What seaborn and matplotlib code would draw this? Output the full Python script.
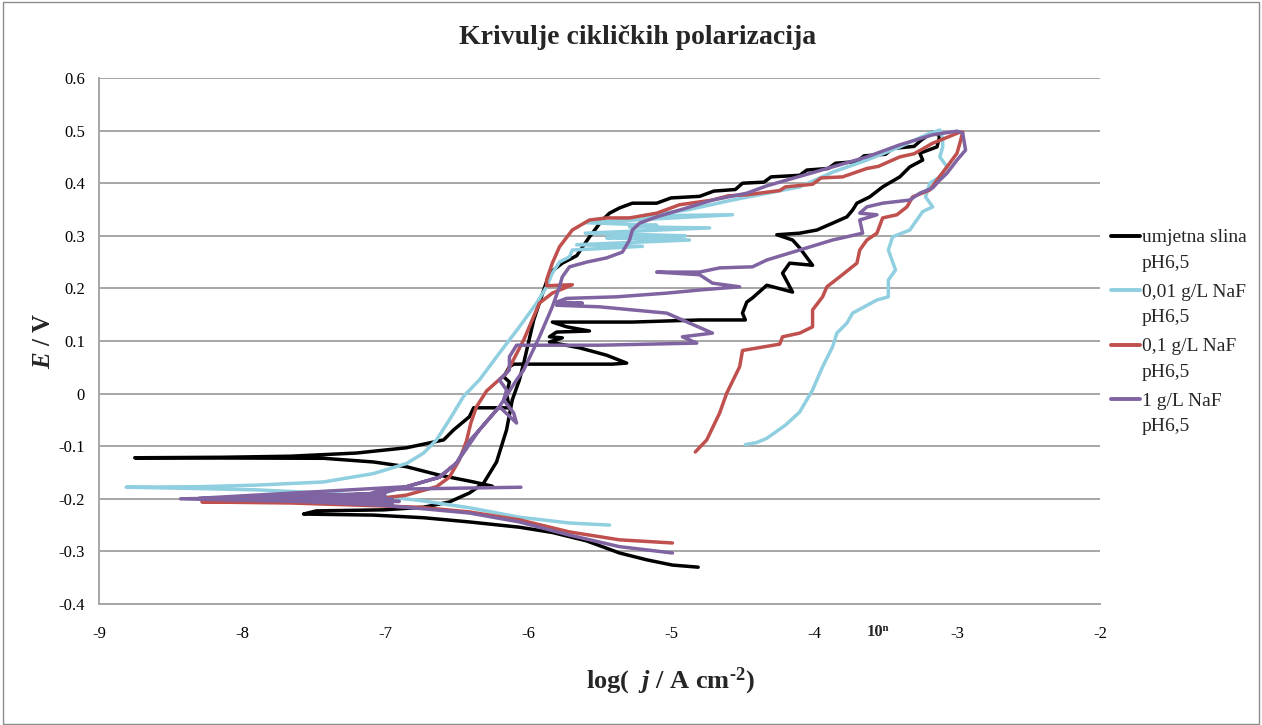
import numpy as np
import pandas as pd
import matplotlib
matplotlib.use("Agg")
import matplotlib.pyplot as plt
import seaborn as sns
from matplotlib.lines import Line2D
from matplotlib.legend_handler import HandlerLine2D
from matplotlib.patches import Rectangle

# ---------------- data (log j / A cm-2, E / V) ----------------
series_names = ["umjetna slina\npH6,5", "0,01 g/L NaF\npH6,5",
                "0,1 g/L NaF\npH6,5", "1 g/L NaF\npH6,5"]
series_colors = ["#000000", "#8fcfe0", "#c0504d", "#8064a2"]

black_x = [-4.81, -4.99, -5.17, -5.36, -5.59, -5.83, -6.06, -6.41, -6.73, -7.08, -7.57,
           -7.48, -7.01, -6.73, -6.55, -6.41, -6.31, -6.22, -6.15, -6.11, -6.06, -6.03, -5.96,
           -5.89, -5.85, -5.76, -5.66, -5.57, -5.48, -5.43, -5.36, -5.27, -5.10, -5.00, -4.80,
           -4.70, -4.55, -4.50, -4.35, -4.30, -4.10, -4.05, -3.90, -3.85, -3.70, -3.65, -3.50,
           -3.45, -3.30, -3.25, -3.17,
           -3.12, -3.14, -3.26, -3.24, -3.33, -3.40, -3.52, -3.61, -3.70, -3.73, -3.77, -3.87,
           -3.98, -4.10, -4.26, -4.15, -4.10, -4.01, -4.17, -4.22, -4.15, -4.33, -4.43, -4.47,
           -4.50, -4.48, -4.80, -5.27, -5.73, -5.83, -5.73, -5.57, -5.80, -5.85, -5.76, -5.85,
           -5.64, -5.45, -5.31, -5.41, -6.10, -6.13, -6.17, -6.13, -6.15, -6.13, -6.38, -6.41,
           -6.52, -6.59, -6.85, -7.20, -7.66, -8.13, -8.75, -7.43, -7.08, -6.85, -6.62, -6.38,
           -6.25]
black_y = [-0.330, -0.326, -0.316, -0.303, -0.280, -0.264, -0.254, -0.244, -0.236, -0.231, -0.229,
           -0.223, -0.221, -0.216, -0.206, -0.189, -0.170, -0.130, -0.069, -0.012, 0.026, 0.058, 0.140,
           0.197, 0.229, 0.248, 0.262, 0.298, 0.330, 0.343, 0.353, 0.362, 0.362, 0.372, 0.375,
           0.385, 0.388, 0.400, 0.402, 0.412, 0.415, 0.425, 0.428, 0.438, 0.441, 0.452, 0.455,
           0.466, 0.470, 0.482, 0.497,
           0.490, 0.469, 0.457, 0.444, 0.431, 0.412, 0.393, 0.374, 0.362, 0.349, 0.336, 0.324,
           0.311, 0.305, 0.302, 0.292, 0.277, 0.244, 0.248, 0.229, 0.193, 0.206, 0.182, 0.174,
           0.153, 0.140, 0.140, 0.136, 0.136, 0.136, 0.127, 0.119, 0.117, 0.108, 0.106, 0.098,
           0.087, 0.073, 0.058, 0.056, 0.056, 0.051, 0.032, 0.022, 0.000, -0.027, -0.027, -0.044,
           -0.069, -0.088, -0.103, -0.113, -0.119, -0.121, -0.122, -0.123, -0.130, -0.139, -0.155, -0.168,
           -0.176]

cyan_x = [-5.43, -5.71, -6.06, -6.41, -6.76, -6.97, -7.43, -7.90, -8.40, -8.81,
          -8.30, -7.90, -7.43, -7.08, -6.85, -6.73, -6.64, -6.55, -6.45, -6.34, -6.20, -6.06,
          -5.94, -5.87, -5.83, -5.78, -5.71, -5.69, -5.20, -5.66, -4.87, -5.45, -5.36, -4.90,
          -5.60, -4.73, -5.29, -5.10, -5.60, -4.57, -5.20, -5.00, -4.89, -4.57, -4.10, -3.87,
          -3.63, -3.40, -3.19, -3.12,
          -3.10, -3.10, -3.12, -3.07, -3.12, -3.19, -3.22, -3.17, -3.24, -3.33, -3.45, -3.48,
          -3.43, -3.48, -3.48, -3.56, -3.73, -3.77, -3.84, -3.87, -3.94, -4.01, -4.10, -4.20,
          -4.33, -4.40, -4.48]
cyan_y = [-0.250, -0.246, -0.235, -0.217, -0.203, -0.197, -0.189, -0.183, -0.180, -0.178,
          -0.177, -0.174, -0.168, -0.152, -0.133, -0.113, -0.088, -0.050, -0.005, 0.026, 0.077, 0.127,
          0.172, 0.203, 0.229, 0.250, 0.260, 0.273, 0.280, 0.283, 0.292, 0.296, 0.298, 0.300,
          0.305, 0.315, 0.317, 0.320, 0.325, 0.340, 0.338, 0.345, 0.349, 0.368, 0.393, 0.421,
          0.444, 0.469, 0.495, 0.501,
          0.485, 0.469, 0.450, 0.431, 0.412, 0.400, 0.374, 0.355, 0.346, 0.311, 0.298, 0.273,
          0.235, 0.216, 0.184, 0.178, 0.153, 0.134, 0.115, 0.089, 0.051, 0.007, -0.035, -0.060,
          -0.085, -0.093, -0.097]

red_x = [-4.99, -5.36, -5.71, -6.06, -6.41, -6.76, -7.20, -7.66, -8.28,
         -7.66, -7.03, -6.85, -6.64, -6.55, -6.48, -6.43, -6.40, -6.36, -6.29, -6.15, -6.03,
         -5.92, -5.83, -5.69, -5.87, -5.87, -5.83, -5.78, -5.69, -5.57, -5.45, -5.29, -5.10,
         -4.94, -4.71, -4.60, -4.47, -4.24, -4.20, -4.01, -3.95, -3.80, -3.63, -3.55, -3.40,
         -3.30, -3.17, -2.98,
         -2.96, -2.98, -3.00, -3.07, -3.14, -3.19, -3.31, -3.35, -3.42, -3.52, -3.56, -3.63,
         -3.68, -3.70, -3.82, -3.91, -3.94, -4.01, -4.01, -4.10, -4.22, -4.24, -4.50, -4.52,
         -4.61, -4.66, -4.75, -4.83]
red_y = [-0.284, -0.278, -0.263, -0.240, -0.225, -0.216, -0.212, -0.208, -0.206,
         -0.205, -0.199, -0.193, -0.177, -0.159, -0.126, -0.090, -0.056, -0.025, 0.005, 0.039, 0.102,
         0.172, 0.191, 0.207, 0.205, 0.216, 0.248, 0.279, 0.311, 0.330, 0.334, 0.334, 0.343,
         0.359, 0.368, 0.376, 0.378, 0.386, 0.393, 0.398, 0.410, 0.412, 0.428, 0.432, 0.450,
         0.456, 0.476, 0.497,
         0.497, 0.476, 0.457, 0.431, 0.406, 0.387, 0.374, 0.355, 0.340, 0.334, 0.305, 0.292,
         0.273, 0.248, 0.222, 0.203, 0.184, 0.159, 0.127, 0.115, 0.108, 0.094, 0.082, 0.051,
         0.001, -0.037, -0.088, -0.111]

purple_x = [-4.99, -5.36, -5.71, -6.06, -6.41, -6.73, -7.03, -7.60, -8.43,
            -7.60, -7.03, -6.85, -6.62, -6.50, -6.41, -6.34, -6.20, -6.08, -6.03, -5.92, -5.83,
            -5.78, -5.76, -5.71, -5.59, -5.45, -5.34, -5.29, -5.27, -5.22, -5.10, -4.89, -4.71,
            -4.47, -4.33, -3.87, -3.63, -3.40, -3.17, -3.00,
            -2.96, -2.94, -3.00, -3.07, -3.12, -3.17, -3.26, -3.33, -3.52, -3.63, -3.68, -3.56,
            -3.68, -3.66, -3.87, -4.10, -4.33, -4.43, -4.66, -4.80, -5.10, -4.80, -4.71, -4.52,
            -4.80, -5.03, -5.38, -5.73, -5.80, -5.62, -5.80, -5.50, -5.03, -4.71, -4.92, -4.82,
            -5.50, -6.08, -6.13, -6.13, -6.20, -6.15, -6.17, -6.10, -6.08,
            -6.20, -6.34, -6.50, -6.62, -6.85, -7.05, -8.30, -7.00, -8.10, -7.00, -7.90, -6.95,
            -7.70, -6.90, -7.50, -6.95, -7.30, -7.00, -6.05]
purple_y = [-0.303, -0.291, -0.269, -0.244, -0.227, -0.219, -0.212, -0.205, -0.200,
            -0.197, -0.190, -0.177, -0.159, -0.132, -0.090, -0.069, -0.025, 0.026, 0.045, 0.108, 0.165,
            0.203, 0.222, 0.241, 0.250, 0.258, 0.269, 0.292, 0.311, 0.324, 0.336, 0.353, 0.368,
            0.381, 0.395, 0.431, 0.450, 0.473, 0.492, 0.499,
            0.495, 0.463, 0.444, 0.419, 0.406, 0.391, 0.381, 0.368, 0.362, 0.355, 0.343, 0.340,
            0.330, 0.305, 0.292, 0.273, 0.254, 0.241, 0.239, 0.231, 0.231, 0.226, 0.210, 0.203,
            0.197, 0.191, 0.184, 0.181, 0.174, 0.172, 0.168, 0.165, 0.153, 0.115, 0.108, 0.096,
            0.092, 0.092, 0.070, 0.045, 0.026, 0.007, -0.012, -0.037, -0.056,
            -0.025, -0.069, -0.132, -0.159, -0.177, -0.180, -0.199, -0.190, -0.199, -0.195, -0.200, -0.200,
            -0.201, -0.205, -0.203, -0.209, -0.205, -0.182, -0.178]

x_ticks = [-9, -8, -7, -6, -5, -4, -3, -2]
y_ticks = [-0.4, -0.3, -0.2, -0.1, 0, 0.1, 0.2, 0.3, 0.4, 0.5, 0.6]
y_tick_labels = ["-0.4", "-0.3", "-0.2", "-0.1", "0", "0.1", "0.2", "0.3", "0.4", "0.5", "0.6"]
title_text = "Krivulje cikličkih polarizacija"

# ---------------- build long table ----------------
frames = []
for name, xs, ys in zip(series_names, [black_x, cyan_x, red_x, purple_x],
                        [black_y, cyan_y, red_y, purple_y]):
    frames.append(pd.DataFrame({"logj": xs, "E": ys, "series": name,
                                "order": np.arange(len(xs))}))
df = pd.concat(frames, ignore_index=True)

# ---------------- style ----------------
sns.set_style("white")
plt.rcParams["font.family"] = ["Liberation Serif", "DejaVu Serif"]
plt.rcParams["axes.unicode_minus"] = False
plt.rcParams["mathtext.fontset"] = "custom"
plt.rcParams["mathtext.rm"] = "Liberation Serif:bold"
plt.rcParams["mathtext.it"] = "Liberation Serif:italic:bold"
plt.rcParams["mathtext.bf"] = "Liberation Serif:bold"

fig = plt.figure(figsize=(12.62, 7.25), dpi=100)
ax = fig.add_axes([99 / 1262, 1 - 604 / 725, (1100 - 99) / 1262, (604 - 78) / 725])

palette = dict(zip(series_names, series_colors))
sns.lineplot(data=df, x="logj", y="E", hue="series", units="series",
             estimator=None, sort=False, palette=palette, lw=2.5,
             legend=False, ax=ax)

ax.set_xlim(-9, -2)
ax.set_ylim(-0.4, 0.6)
ax.set_xticks(x_ticks)
ax.set_xticklabels([str(t) for t in x_ticks])
ax.set_yticks(y_ticks)
ax.set_yticklabels(y_tick_labels)
ax.tick_params(axis="both", labelsize=12, colors="#a0a0a0", labelcolor="black",
               direction="out", length=6, width=1.3)
ax.tick_params(axis="x", pad=10)
ax.tick_params(axis="y", pad=4)
ax.grid(axis="y", color="#a6a6a6", lw=1.4)
ax.grid(axis="x", visible=False)
for s in ["top", "right"]:
    ax.spines[s].set_visible(False)
for s in ["left", "bottom"]:
    ax.spines[s].set_color("#a6a6a6")
    ax.spines[s].set_linewidth(1.4)
ax.set_axisbelow(True)

ax.set_xlabel(r"log(  $j$ / A cm$^{\text{-2}}$)", fontsize=19, fontweight="bold")
ax.xaxis.label.set_va("center")
ax.xaxis.set_label_coords((670 - 99) / 1001, -(681 - 604) / 526)
ax.set_ylabel(r"$E$ / V", fontsize=18, fontweight="bold")
ax.yaxis.label.set_va("center")
ax.yaxis.set_label_coords(-(99 - 43) / 1001, 0.5)

fig.text(638 / 1262, 1 - 37 / 725, title_text, ha="center", va="center",
         fontsize=20, fontweight="bold")
fig.text(878 / 1262, 1 - 632 / 725, "10ⁿ", ha="center", va="center",
         fontsize=12, fontweight="bold", family=["Liberation Serif", "DejaVu Serif"])

LINESP = 1.68
HANDLE_SHIFT = 10.5  # points, lifts the legend line to the first label line


class UpHandler(HandlerLine2D):
    def create_artists(self, legend, orig_handle, xdescent, ydescent, width, height,
                       fontsize, trans):
        arts = super().create_artists(legend, orig_handle, xdescent, ydescent, width,
                                      height, fontsize, trans)
        for a in arts:
            a.set_ydata(np.asarray(a.get_ydata()) + HANDLE_SHIFT)
        return arts


handles = [Line2D([0], [0], color=c, lw=2.8) for c in series_colors]
leg = fig.legend(handles, series_names, loc="upper left",
                 bbox_to_anchor=(1111 / 1262, 1 - 229 / 725), frameon=False,
                 fontsize=14, handlelength=1.5, handletextpad=0.1, labelspacing=0.6,
                 borderpad=0, borderaxespad=0,
                 handler_map={Line2D: UpHandler()})
for t in leg.get_texts():
    t.set_linespacing(LINESP)

fig.add_artist(Rectangle((0.002, 0.002), 0.996, 0.995, transform=fig.transFigure,
                         fill=False, edgecolor="#8c8c8c", lw=1))

fig.savefig("out.png", dpi=100)
